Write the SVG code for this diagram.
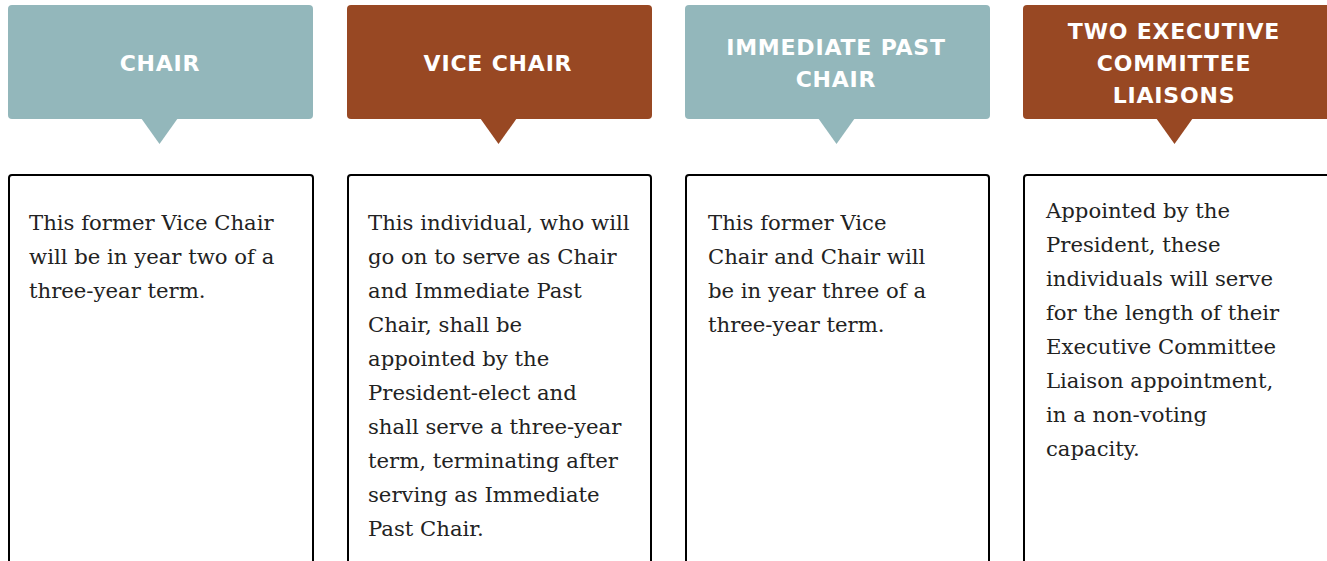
<svg xmlns="http://www.w3.org/2000/svg" width="1327" height="561" viewBox="0 0 1327 561">
<style>
.teal{fill:#93b7bb}
.brown{fill:#984823}
.hd{font-family:"DejaVu Sans",sans-serif;font-weight:bold;font-size:22px;fill:#ffffff;text-anchor:middle;letter-spacing:0.8px}
.box{fill:#ffffff;stroke:#000000;stroke-width:2}
.bd{font-family:"DejaVu Serif",serif;font-size:21.2px;fill:#222222}
</style>
<rect width="1327" height="561" fill="#ffffff"/>
<g id="chair">
<rect class="teal" x="8" y="5" width="305" height="114" rx="4"/>
<polygon class="teal" points="141,118 178,118 159.5,144"/>
<text class="hd" x="160" y="71">CHAIR</text>
<rect class="box" x="9" y="175" width="304" height="400" rx="3"/>
<text class="bd"><tspan x="29" y="230">This former Vice Chair</tspan><tspan x="29" y="264">will be in year two of a</tspan><tspan x="29" y="298">three-year term.</tspan></text>
</g>
<g id="vice-chair">
<rect class="brown" x="347" y="5" width="305" height="114" rx="4"/>
<polygon class="brown" points="480,118 517,118 498.5,144"/>
<text class="hd" x="498" y="71">VICE CHAIR</text>
<rect class="box" x="348" y="175" width="303" height="400" rx="3"/>
<text class="bd"><tspan x="368" y="230">This individual, who will</tspan><tspan x="368" y="264">go on to serve as Chair</tspan><tspan x="368" y="298">and Immediate Past</tspan><tspan x="368" y="332">Chair, shall be</tspan><tspan x="368" y="366">appointed by the</tspan><tspan x="368" y="400">President-elect and</tspan><tspan x="368" y="434">shall serve a three-year</tspan><tspan x="368" y="468">term, terminating after</tspan><tspan x="368" y="502">serving as Immediate</tspan><tspan x="368" y="536">Past Chair.</tspan></text>
</g>
<g id="immediate-past-chair">
<rect class="teal" x="685" y="5" width="305" height="114" rx="4"/>
<polygon class="teal" points="818,118 855,118 836.5,144"/>
<text class="hd"><tspan x="836" y="55">IMMEDIATE PAST</tspan><tspan x="836" y="87">CHAIR</tspan></text>
<rect class="box" x="686" y="175" width="303" height="400" rx="3"/>
<text class="bd"><tspan x="708" y="230">This former Vice</tspan><tspan x="708" y="264">Chair and Chair will</tspan><tspan x="708" y="298">be in year three of a</tspan><tspan x="708" y="332">three-year term.</tspan></text>
</g>
<g id="executive-liaisons">
<rect class="brown" x="1023" y="5" width="310" height="114" rx="4"/>
<polygon class="brown" points="1156,118 1193,118 1174.5,144"/>
<text class="hd"><tspan x="1174" y="39">TWO EXECUTIVE</tspan><tspan x="1174" y="71">COMMITTEE</tspan><tspan x="1174" y="103">LIAISONS</tspan></text>
<rect class="box" x="1024" y="175" width="310" height="400" rx="3"/>
<text class="bd"><tspan x="1046" y="218">Appointed by the</tspan><tspan x="1046" y="252">President, these</tspan><tspan x="1046" y="286">individuals will serve</tspan><tspan x="1046" y="320">for the length of their</tspan><tspan x="1046" y="354">Executive Committee</tspan><tspan x="1046" y="388">Liaison appointment,</tspan><tspan x="1046" y="422">in a non-voting</tspan><tspan x="1046" y="456">capacity.</tspan></text>
</g>
<g id="connectors"></g>
</svg>
